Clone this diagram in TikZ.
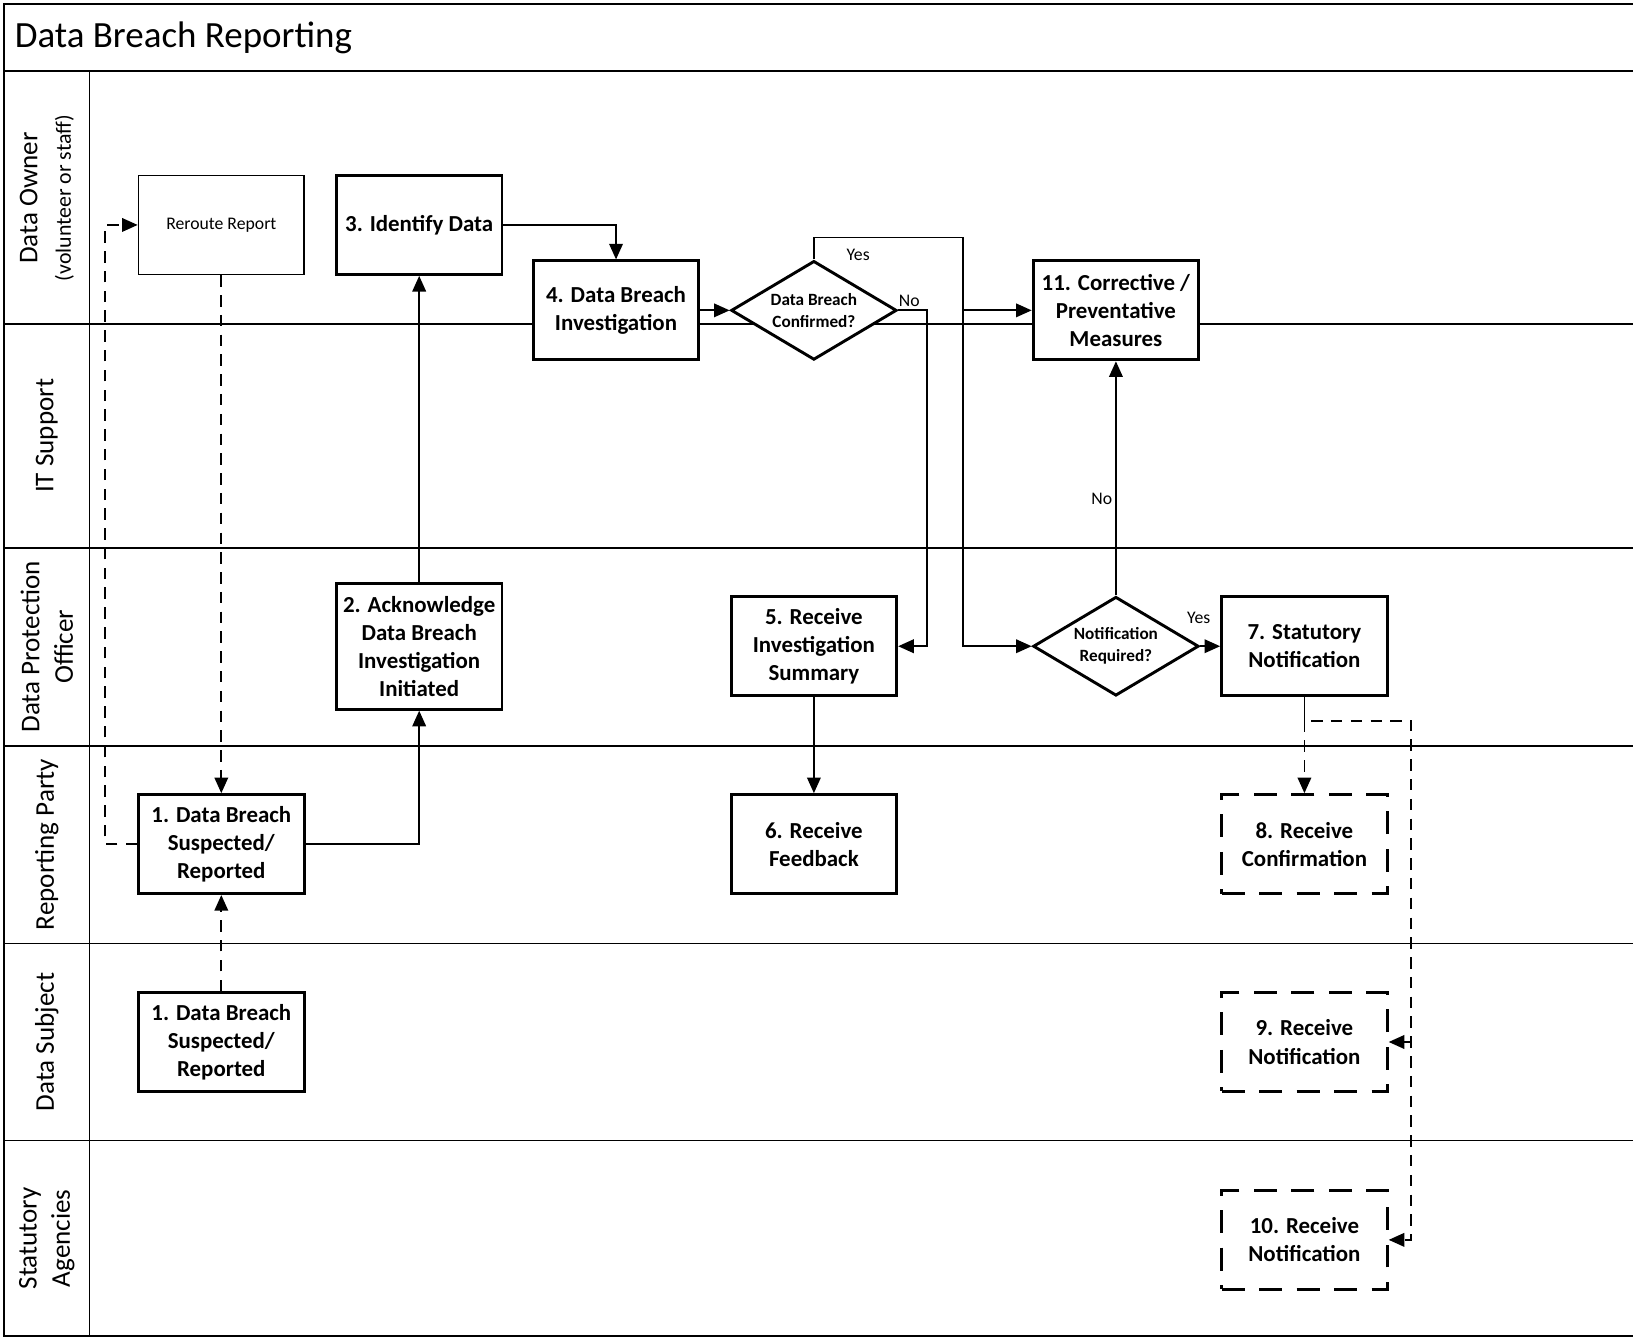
\documentclass[tikz,border=0pt]{standalone}
\usepackage{fontspec}
\setmainfont{Carlito}
\usetikzlibrary{arrows.meta,shapes.geometric}
\begin{document}
\begin{tikzpicture}[x=1pt,y=-1pt,
  lane/.style={line width=1.6pt},
  box/.style={draw, fill=white, line width=2.8pt, minimum width=159pt, minimum height=95pt, inner sep=0pt, align=center, font=\bfseries\fontsize{22}{27}\selectfont},
  dbox/.style={box, dash pattern=on 22pt off 14pt},
  tbox/.style={draw, fill=white, line width=1.6pt, minimum width=159pt, minimum height=95pt, inner sep=0pt, align=center, font=\fontsize{17}{21}\selectfont},
  dec/.style={diamond, shape aspect=1.66, draw, fill=white, line width=2.8pt, minimum width=159pt, minimum height=95pt, inner sep=0pt, align=center, font=\bfseries\fontsize{16.5}{21}\selectfont},
  conn/.style={line width=1.8pt, -{Triangle[length=15pt,width=13pt]}},
  dconn/.style={conn, dash pattern=on 11pt off 8pt},
  lbl/.style={font=\fontsize{17}{20}\selectfont, inner sep=1pt},
  lanelbl/.style={rotate=90, align=center, font=\fontsize{26}{32}\selectfont}]
\useasboundingbox (0,0) rectangle (1568,1285);
% frame and lanes
\draw[line width=2pt] (1568,4) -- (4,4) -- (4,1283) -- (1568,1283);
\draw[lane] (4,68) -- (1568,68);
\draw[lane] (86,68) -- (86,1283);
\foreach \yy in {311,526,716,906,1095} {\draw[lane] (4,\yy) -- (1568,\yy);}
\node[anchor=west, inner sep=0pt, font=\fontsize{35.5}{42}\selectfont] (title) at (14,36) {Data Breach Reporting};
% lane labels
\node[lanelbl] (l1) at (45,190) {Data Owner\\{\fontsize{21}{30}\selectfont(volunteer or staff)}};
\node[lanelbl] (l2) at (45,418.5) {IT Support};
\node[lanelbl] (l3) at (45,621) {Data Protection\\Officer};
\node[lanelbl] (l4) at (45,811) {Reporting Party};
\node[lanelbl] (l5) at (45,1000.5) {Data Subject};
\node[lanelbl] (l6) at (45,1189) {Statutory\\Agencies};
% boxes
\node[tbox] (rr) at (212.5,216) {Reroute Report};
\node[box] (b3) at (402.5,216) {3. Identify Data};
\node[box] (b4) at (591.5,298) {4. Data Breach\\Investigation};
\node[dec] (d1) at (781.5,298) {Data Breach\\Confirmed?};
\node[box] (b11) at (1071.5,298) {11. Corrective /\\Preventative\\Measures};
\node[box, minimum height=121pt] (b2) at (402.5,620.5) {2. Acknowledge\\Data Breach\\Investigation\\Initiated};
\node[box] (b5) at (781.5,620.5) {5. Receive\\Investigation\\Summary};
\node[dec] (d2) at (1071.5,620.5) {Notification\\Required?};
\node[box] (b7) at (1252.5,620.5) {7. Statutory\\Notification};
\node[box] (b1r) at (212.5,810.5) {1. Data Breach\\Suspected/\\Reported};
\node[box] (b6) at (781.5,810.5) {6. Receive\\Feedback};
\node[dbox] (b8) at (1252.5,810.5) {8. Receive\\Confirmation};
\node[box] (b1s) at (212.5,1000.5) {1. Data Breach\\Suspected/\\Reported};
\node[dbox] (b9) at (1252.5,1000.5) {9. Receive\\Notification};
\node[dbox] (b10) at (1252.5,1190.5) {10. Receive\\Notification};
% connectors
\draw[dconn] (b1s.north) -- (b1r.south);
\draw[conn] (b1r.east) -| (b2.south);
\draw[conn] (b2.north) -- (b3.south);
\draw[dconn] (b1r.west) -- (101,810.5) -- (101,216) -- (rr.west);
\draw[dconn] (rr.south) -- (b1r.north);
\draw[conn] (b3.east) -| (b4.north);
\draw[conn] (b4.east) -- (d1.west);
\draw[conn] (d1.north) -- (781.5,228) -| (925,620.5) -- (d2.west);
\coordinate (yj) at (925,298);
\draw[conn] (yj) -- (b11.west);
\draw[conn] (d1.east) -- (890,298) |- (b5.east);
\node[lbl, fill=white, inner sep=2pt] (no1) at (873,289) {No};
\node[lbl] (yes1) at (824,245) {Yes};
\draw[conn] (b5.south) -- (b6.north);
\draw[conn] (d2.north) -- (b11.south);
\node[lbl, fill=white] (no2) at (1058,479) {No};
\draw[conn] (d2.east) -- (b7.west);
\node[lbl] (yes2) at (1151,593) {Yes};
\draw[line width=1.8pt] (b7.south) -- (1252.5,692) coordinate (sj);
\draw[dconn] (sj) -- (b8.north);
\coordinate (sk) at (1259,692);
\draw[dconn] (sk) -- (1355,692) |- (b10.east);
\coordinate (dj) at (1355,1000.5);
\draw[dconn] (dj) -- (b9.east);
\end{tikzpicture}
\end{document}
